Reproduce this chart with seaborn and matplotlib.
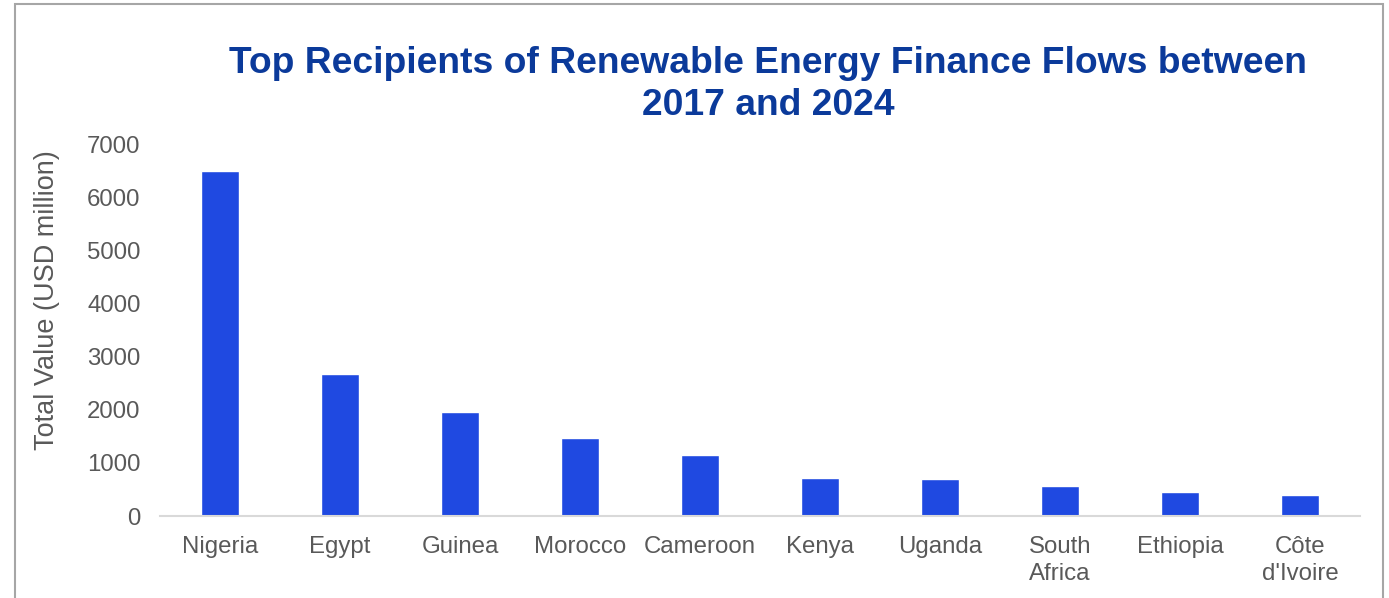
import matplotlib
matplotlib.use('Agg')
import matplotlib.pyplot as plt
from matplotlib.patches import Rectangle
import seaborn as sns
import pandas as pd

# Chart data
COUNTRIES = ['Nigeria', 'Egypt', 'Guinea', 'Morocco', 'Cameroon', 'Kenya',
             'Uganda', 'South\nAfrica', 'Ethiopia', "Côte\nd'Ivoire"]
TOTAL_VALUE = [6500, 2670, 1960, 1470, 1150, 710, 700, 570, 450, 400]
Y_TICKS = [0, 1000, 2000, 3000, 4000, 5000, 6000, 7000]

TITLE = 'Top Recipients of Renewable Energy Finance Flows between\n2017 and 2024'
Y_LABEL = 'Total Value (USD million)'

BAR_COLOR = '#1F49E1'
TITLE_COLOR = '#0B3A9A'
TEXT_COLOR = '#595959'

sns.set_theme(style='white')
plt.rcParams['font.family'] = ['Liberation Sans', 'DejaVu Sans']

df = pd.DataFrame({'country': COUNTRIES, 'value': TOTAL_VALUE})

fig = plt.figure(figsize=(13.89, 5.98), dpi=100)
ax = fig.add_axes([0.1152, 0.137, 0.864, 0.622])

sns.barplot(data=df, x='country', y='value', color=BAR_COLOR, width=0.32,
            saturation=1, ax=ax)

ax.set_ylim(0, 7000)
ax.set_yticks(Y_TICKS)
ax.set_xlim(-0.5, len(COUNTRIES) - 0.5)
ax.tick_params(axis='both', labelsize=17.3, labelcolor=TEXT_COLOR, length=0)
ax.tick_params(axis='x', pad=14)
ax.tick_params(axis='y', pad=14)
for lbl in ax.get_xticklabels():
    lbl.set_linespacing(1.35)
ax.set_xlabel('')
ax.set_ylabel(Y_LABEL, fontsize=19.5, color=TEXT_COLOR)
ax.yaxis.set_label_coords(-0.083, 0.58)

for side in ['top', 'right', 'left']:
    ax.spines[side].set_visible(False)
ax.spines['bottom'].set_color('#D9D9D9')
ax.spines['bottom'].set_linewidth(1.5)

fig.text(0.553, 0.858, TITLE, ha='center', va='center', fontsize=26.8,
         fontweight='bold', color=TITLE_COLOR, linespacing=1.26)

# outer frame (bottom edge is cropped off in the reference)
frame = Rectangle((15 / 1389, -0.1), (1383 - 15) / 1389, 1.1 - 4 / 598,
                  transform=fig.transFigure, fill=False,
                  edgecolor='#A6A6A6', linewidth=1.5, clip_on=False)
fig.patches.append(frame)

fig.savefig('out.png', dpi=100)
